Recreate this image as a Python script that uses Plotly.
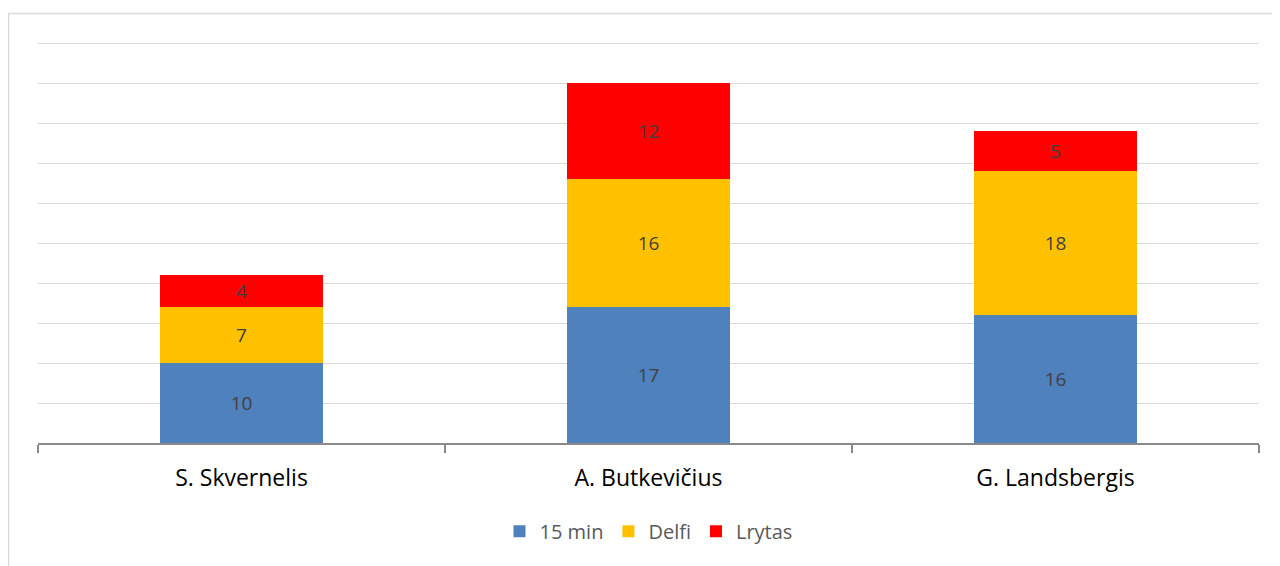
import plotly.graph_objects as go

candidates = ['S. Skvernelis', 'A. Butkevičius', 'G. Landsbergis']
min15 = [10, 17, 16]
delfi = [7, 16, 18]
lrytas = [4, 12, 5]

series = [('15 min', min15, '#4f81bd'),
          ('Delfi', delfi, '#ffc000'),
          ('Lrytas', lrytas, '#ff0000')]

fig = go.Figure()
for name, vals, color in series:
    fig.add_trace(go.Bar(x=candidates, y=vals, name=name, marker_color=color,
                         marker_line_width=0, text=vals, textposition='inside',
                         insidetextanchor='middle', textangle=0,
                         textfont=dict(family='Open Sans', size=19, color='#404040')))

# page body has an 8px margin, so the figure is shifted by 8px
fig.update_layout(
    barmode='stack', bargap=0.6,
    width=1272, height=558,
    margin=dict(l=30, r=21, t=31, b=123),
    plot_bgcolor='white', paper_bgcolor='white',
    font=dict(family='Open Sans', size=20, color='#000000'),
    legend=dict(orientation='h', x=0.5, xanchor='center', y=-0.17, yanchor='top',
                font=dict(size=20, color='#595959'), traceorder='normal'),
    uniformtext=dict(mode='show', minsize=10),
)
fig.update_xaxes(showline=True, linecolor='#898989', linewidth=1.5,
                 ticks='outside', tickson='boundaries', ticklen=8, tickcolor='#898989',
                 tickwidth=1.5, ticklabelstandoff=14,
                 tickfont=dict(size=23, color='#000000'))
fig.update_yaxes(range=[0, 50.5], dtick=5, showticklabels=False, gridcolor='#d9d9d9',
                 gridwidth=1.2, zeroline=False)

fig.add_shape(type='rect', xref='paper', yref='paper',
              x0=-29.5 / 1221, x1=1.1, y0=-0.5, y1=1 + 25.5 / 404,
              line=dict(color='#d9d9d9', width=1.5), layer='below')

fig.write_html("out.html")
